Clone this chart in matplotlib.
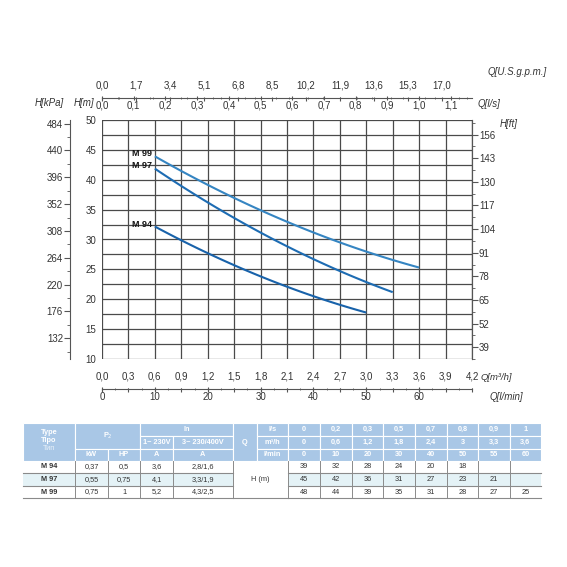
import numpy as np
import matplotlib
matplotlib.use("Agg")
import matplotlib.pyplot as plt
from matplotlib.patches import Rectangle
from matplotlib.ticker import MultipleLocator

plt.rcParams['font.family'] = ['Liberation Sans', 'DejaVu Sans']

# data (from the performance table)
q_lmin = [10, 20, 30, 40, 50, 55, 60]
m94 = [32, 28, 24, 20, 18]
m97 = [42, 36, 31, 27, 23, 21]
m99 = [44, 39, 35, 31, 28, 27, 25]
curve_names = ['M 94', 'M 97', 'M 99']
curve_colors = ['#1862aa', '#1d6cb3', '#3585c2']

# axis tick labels
gpm_labels = ['0,0', '1,7', '3,4', '5,1', '6,8', '8,5', '10,2', '11,9', '13,6', '15,3', '17,0']
ls_labels = ['0,0', '0,1', '0,2', '0,3', '0,4', '0,5', '0,6', '0,7', '0,8', '0,9', '1,0', '1,1']
m3h_labels = ['0,0', '0,3', '0,6', '0,9', '1,2', '1,5', '1,8', '2,1', '2,4', '2,7', '3,0',
              '3,3', '3,6', '3,9', '4,2']
lmin_labels = ['0', '10', '20', '30', '40', '50', '60']
kpa_ticks = [132, 176, 220, 264, 308, 352, 396, 440, 484]
ft_ticks = [39, 52, 65, 78, 91, 104, 117, 130, 143, 156]

# table contents
types = ['M 94', 'M 97', 'M 99']
kw = ['0,37', '0,55', '0,75']
hp = ['0,5', '0,75', '1']
amp1 = ['3,6', '4,1', '5,2']
amp3 = ['2,8/1,6', '3,3/1,9', '4,3/2,5']
tab_ls = ['0', '0,2', '0,3', '0,5', '0,7', '0,8', '0,9', '1']
tab_m3h = ['0', '0,6', '1,2', '1,8', '2,4', '3', '3,3', '3,6']
tab_lmin = ['0', '10', '20', '30', '40', '50', '55', '60']
tab_h = [['39', '32', '28', '24', '20', '18', '', ''],
         ['45', '42', '36', '31', '27', '23', '21', ''],
         ['48', '44', '39', '35', '31', '28', '27', '25']]

W = H = 567
fig = plt.figure(figsize=(5.67, 5.67), dpi=100)


def box(x0, y0, x1, y1):
    return [x0 / W, 1 - y1 / H, (x1 - x0) / W, (y1 - y0) / H]


TXT = '#333333'
FS = 7

# main grid
ax = fig.add_axes(box(102, 120, 472, 359))
ax.set_xlim(0, 70)
ax.set_ylim(10, 50)
ax.xaxis.set_major_locator(MultipleLocator(5))
ax.grid(True, color='#4a4a4a', lw=0.9)
ax.tick_params(axis='x', length=0, labelbottom=False)
ax.set_yticks(np.arange(10, 51, 5))
ax.set_yticks(np.arange(10, 51, 2.5), minor=True)
ax.grid(True, which='minor', axis='y', color='#4a4a4a', lw=0.9)
ax.tick_params(axis='y', which='both', length=0, labelsize=FS, labelcolor=TXT, pad=4)
for s in ax.spines.values():
    s.set_visible(False)
ax.spines['right'].set_visible(True)
ax.spines['right'].set_color('#555555')

for name, ys, c in zip(curve_names, [m94, m97, m99], curve_colors):
    xs = q_lmin[:len(ys)]
    xx = np.linspace(xs[0], xs[-1], 100)
    coef = np.polyfit(xs, ys, 2)
    ax.plot(xx, np.polyval(coef, xx), color=c, lw=1.5, solid_capstyle='butt')
    ax.annotate(name, (xs[0], ys[0]), xytext=(-2, 2), textcoords='offset points',
                ha='right', va='center', fontsize=6.5, fontweight='bold', color='#111111')

# right axis in feet
axr = ax.twinx()
axr.set_ylim(10 / 0.3048, 50 / 0.3048)
axr.set_yticks(ft_ticks)
axr.set_yticks(np.arange(32.5, 164, 6.5), minor=True)
axr.tick_params(axis='y', which='major', length=4, labelsize=FS, labelcolor=TXT,
                color='#555555', pad=1)
axr.tick_params(axis='y', which='minor', length=2, color='#555555')
for s in axr.spines.values():
    s.set_visible(False)
axr.spines['right'].set_visible(True)
axr.spines['right'].set_color('#555555')
fig.text(500 / W, 1 - 124 / H, 'H[ft]', fontsize=FS, style='italic', color=TXT, va='center')

# left axis in kPa
axk = fig.add_axes(box(70, 120, 71, 359))
axk.set_ylim(98, 490)
axk.set_yticks(kpa_ticks)
axk.set_yticks(np.arange(110, 490, 22), minor=True)
axk.set_xticks([])
for s in axk.spines.values():
    s.set_visible(False)
axk.spines['left'].set_visible(True)
axk.spines['left'].set_color('#555555')
axk.tick_params(axis='y', which='major', length=4, labelsize=FS, labelcolor=TXT,
                color='#555555', pad=1)
axk.tick_params(axis='y', which='minor', length=2, color='#555555')
axk.patch.set_visible(False)
fig.text(35 / W, 1 - 103 / H, 'H[kPa]', fontsize=FS, style='italic', color=TXT, va='center')
fig.text(74 / W, 1 - 103 / H, 'H[m]', fontsize=FS, style='italic', color=TXT, va='center')

# top axis: l/s below, US gpm above
axt = fig.add_axes(box(102, 97, 472, 97.5))
axt.set_xlim(0, 70 / 60)
axt.set_yticks([])
axt.set_xticks(np.arange(len(ls_labels)) * 0.1)
axt.set_xticklabels(ls_labels)
axt.set_xticks(np.arange(0, 1.17, 0.05), minor=True)
for s in axt.spines.values():
    s.set_visible(False)
axt.spines['bottom'].set_visible(True)
axt.spines['bottom'].set_color('#555555')
axt.tick_params(axis='x', which='major', direction='inout', length=3, labelsize=FS,
                labelcolor=TXT, color='#555555', pad=1)
axt.tick_params(axis='x', which='minor', direction='inout', length=1.5, color='#555555')
axt.patch.set_visible(False)
axg = axt.twiny()
axg.set_xlim(0, 70 / 3.785)
axg.set_xticks(np.arange(len(gpm_labels)) * 1.7)
axg.set_xticklabels(gpm_labels)
axg.set_xticks(np.arange(0, 18.5, 0.85), minor=True)
for s in axg.spines.values():
    s.set_visible(False)
axg.tick_params(axis='x', which='major', direction='in', length=3, labelsize=FS,
                labelcolor=TXT, color='#555555', pad=5)
axg.tick_params(axis='x', which='minor', direction='in', length=1.5, color='#555555')
fig.text(478 / W, 1 - 104 / H, 'Q[l/s]', fontsize=FS, style='italic', color=TXT, va='center')
fig.text(488 / W, 1 - 72 / H, 'Q[U.S.g.p.m.]', fontsize=FS, style='italic', color=TXT,
         va='center')

# bottom axis: m3/h above, l/min below
axb = fig.add_axes(box(102, 388, 472, 388.5))
axb.set_xlim(0, 70)
axb.set_yticks([])
axb.set_xticks(np.arange(len(lmin_labels)) * 10)
axb.set_xticklabels(lmin_labels)
axb.set_xticks(np.arange(0, 71, 2.5), minor=True)
for s in axb.spines.values():
    s.set_visible(False)
axb.spines['bottom'].set_visible(True)
axb.spines['bottom'].set_color('#555555')
axb.tick_params(axis='x', which='major', direction='inout', length=3, labelsize=FS,
                labelcolor=TXT, color='#555555', pad=1)
axb.tick_params(axis='x', which='minor', direction='inout', length=1.5, color='#555555')
axb.patch.set_visible(False)
axm = axb.twiny()
axm.set_xlim(0, 4.2)
axm.set_xticks(np.arange(len(m3h_labels)) * 0.3)
axm.set_xticklabels(m3h_labels)
for s in axm.spines.values():
    s.set_visible(False)
axm.tick_params(axis='x', which='major', direction='in', length=3, labelsize=FS,
                labelcolor=TXT, color='#555555', pad=5)
fig.text(481 / W, 1 - 377 / H, 'Q[m³/h]', fontsize=6.8, style='italic', color=TXT,
         va='center')
fig.text(490 / W, 1 - 397 / H, 'Q[l/min]', fontsize=FS, style='italic', color=TXT, va='center')

# table
at = fig.add_axes([0, 0, 1, 1])
at.set_xlim(0, W)
at.set_ylim(H, 0)
at.axis('off')
cx = [23, 75, 108, 140, 173, 233, 257, 288, 320, 352, 383, 415, 447, 478, 510, 541]
ry = [423, 436, 449, 461, 473, 486, 498]
HEAD = '#a9c7e6'
TF = 5.3


def hcell(c0, c1, r0, r1, text, **kw):
    at.add_patch(Rectangle((cx[c0], ry[r0]), cx[c1] - cx[c0], ry[r1] - ry[r0],
                           facecolor=HEAD, edgecolor='white', lw=0.8))
    at.text((cx[c0] + cx[c1]) / 2, (ry[r0] + ry[r1]) / 2, text, ha='center', va='center',
            fontsize=TF, color='white', fontweight='bold', **kw)


hcell(0, 1, 0, 3, '')
at.text((cx[0] + cx[1]) / 2, 432, 'Type', ha='center', va='center', fontsize=TF,
        color='white', fontweight='bold')
at.text((cx[0] + cx[1]) / 2, 440, 'Tipo', ha='center', va='center', fontsize=TF,
        color='white', fontweight='bold')
at.text((cx[0] + cx[1]) / 2, 448, 'Тип', ha='center', va='center', fontsize=TF,
        color='#e8f0f8')
hcell(1, 3, 0, 2, 'P$_2$')
hcell(3, 5, 0, 1, 'In')
hcell(3, 4, 1, 2, '1~ 230V')
hcell(4, 5, 1, 2, '3~ 230/400V')
for c, t in zip(range(1, 5), ['kW', 'HP', 'A', 'A']):
    hcell(c, c + 1, 2, 3, t)
hcell(5, 6, 0, 3, 'Q')
for r, (u, vals) in enumerate(zip(['l/s', 'm³/h', 'l/min'], [tab_ls, tab_m3h, tab_lmin])):
    hcell(6, 7, r, r + 1, u)
    for j, v in enumerate(vals):
        hcell(7 + j, 8 + j, r, r + 1, v)

# data rows
for i in range(3):
    r0, r1 = ry[3 + i], ry[4 + i]
    bg = '#e4f2f6' if i == 1 else 'white'
    at.add_patch(Rectangle((cx[0], r0), cx[5] - cx[0], r1 - r0, facecolor=bg, lw=0))
    at.add_patch(Rectangle((cx[7], r0), cx[15] - cx[7], r1 - r0, facecolor=bg, lw=0))
    ym = (r0 + r1) / 2
    row = [types[i], kw[i], hp[i], amp1[i], amp3[i]]
    for c, t in enumerate(row):
        at.text((cx[c] + cx[c + 1]) / 2, ym, t, ha='center', va='center', fontsize=TF,
                color='#333333', fontweight='bold' if c == 0 else 'normal')
    for j, v in enumerate(tab_h[i]):
        at.text((cx[7 + j] + cx[8 + j]) / 2, ym, v, ha='center', va='center', fontsize=TF,
                color='#333333')
    # horizontal lines under rows
    at.plot([cx[0], cx[5]], [r1, r1], color='#8a8a8a', lw=0.8)
    at.plot([cx[7], cx[15]], [r1, r1], color='#8a8a8a', lw=0.8)
at.plot([cx[5], cx[7]], [ry[6], ry[6]], color='#8a8a8a', lw=0.8)
at.text((cx[5] + cx[7]) / 2, (ry[3] + ry[6]) / 2, 'H (m)', ha='center', va='center',
        fontsize=TF, color='#333333')
for c in range(1, 15):
    if c == 6:
        continue
    at.plot([cx[c], cx[c]], [ry[3], ry[6]], color='#8a8a8a', lw=0.7)

fig.savefig('out.png', dpi=100)
